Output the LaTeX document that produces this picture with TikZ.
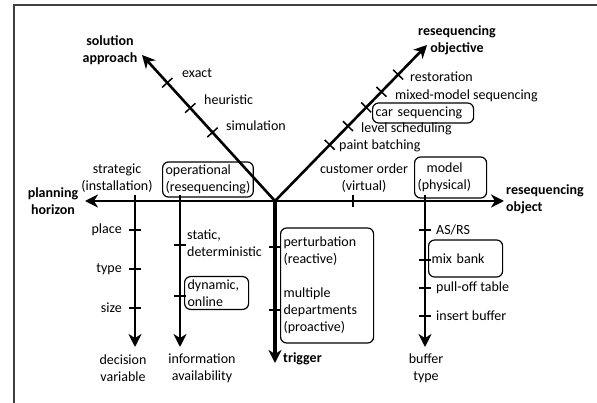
\documentclass[tikz,border=0pt]{standalone}
\usepackage{fontspec}
\setmainfont{Carlito}
\usetikzlibrary{arrows.meta,calc}

\tikzset{
  axis/.style={line width=2.6pt,-{Stealth[length=13pt,width=13pt,inset=4pt]}},
  tickmark/.style={line width=1.5pt},
  lbl/.style={inner sep=0pt},
  hd/.style={font=\fontsize{14}{17}\selectfont\bfseries,align=center,inner sep=0pt},
  box/.style={draw,rounded corners=6pt,line width=1.2pt,inner xsep=3pt,inner ysep=3pt,align=left},
}

\begin{document}
\begin{tikzpicture}[x=1pt,y=-1pt,font=\fontsize{14}{17}\selectfont]
	\useasboundingbox (0,0) rectangle (597,403);
	\draw[line width=1.3pt,black!75] (14,403) -- (14,5) -- (597,5);
	% main axes
	\coordinate (O) at (275,201);
	\coordinate (sa) at (142,55);
	\coordinate (ro) at (427,45);
	\coordinate (ph) at (85,201);
	\coordinate (rob) at (504,201);
	\coordinate (tr) at (275,363);
	\coordinate (dvTop) at (135,195);
	\coordinate (dv) at (135,347);
	\coordinate (iaTop) at (180,195);
	\coordinate (ia) at (180,347);
	\coordinate (btTop) at (425,195);
	\coordinate (bt) at (425,347);
	\draw[axis] (O) -- (sa);
	\draw[axis] (O) -- (ro);
	\draw[axis] (O) -- (ph);
	\draw[axis] (O) -- (rob);
	\draw[axis,line width=3.6pt] (O) -- (tr);
	\draw[axis] (dvTop) -- (dv);
	\draw[axis] (iaTop) -- (ia);
	\draw[axis] (btTop) -- (bt);
	% ticks
	\foreach \t in {0.47,0.637,0.81}
		\draw[tickmark] ($(O)!\t!(sa)!7pt!90:(sa)$) -- ($(O)!\t!(sa)!7pt!-90:(sa)$);
	\foreach \t in {0.36,0.48,0.60,0.70,0.81}
		\draw[tickmark] ($(O)!\t!(ro)!7pt!90:(ro)$) -- ($(O)!\t!(ro)!7pt!-90:(ro)$);
	\draw[tickmark] (353,195) -- (353,207);
	\foreach \y in {230,269,308}
		\draw[tickmark] ({135-6},\y) -- ({135+6},\y);
	\foreach \y in {245,296}
		\draw[tickmark] ({180-6},\y) -- ({180+6},\y);
	\foreach \y in {247,310}
		\draw[tickmark] ({275-6},\y) -- ({275+6},\y);
	\foreach \y in {230,260,288,316}
		\draw[tickmark] ({425-6},\y) -- ({425+6},\y);
	% axis titles
	\node[hd] (tSA) at (110,50) {solution\\approach};
	\node[hd] (tRO) at (457,40) {resequencing\\objective};
	\node[hd] (tPH) at (53,201) {planning\\horizon};
	\node[hd,align=left,anchor=west] (tRB) at (506,199) {resequencing\\object};
	\node[hd,anchor=west] (tTR) at (283,359) {trigger};
	\node[lbl,align=center] (tDV) at (123,368) {decision\\variable};
	\node[lbl,align=center] (tIA) at (202,368) {information\\availability};
	\node[lbl,align=center] (tBT) at (426,368) {buffer\\type};
	% solution approach
	\node[lbl,anchor=west] (exact) at (182,73) {exact};
	\node[lbl,anchor=west] (heur) at (204,100) {heuristic};
	\node[lbl,anchor=west] (simu) at (226,126) {simulation};
	% resequencing objective
	\node[lbl,anchor=west] (resto) at (410,77) {restoration};
	\node[lbl,anchor=west] (mms) at (395,96) {mixed-model sequencing};
	\node[box,anchor=west,text width=95pt,minimum height=20pt] (carseq) at (372,113) {car sequencing};
	\node[lbl,anchor=west] (level) at (361,129) {level scheduling};
	\node[lbl,anchor=west] (paint) at (339,146) {paint batching};
	% planning horizon
	\node[lbl,align=center] (strat) at (117,178) {strategic\\(installation)};
	\node[box,anchor=west] (oper) at (162,179.5) {operational\\(resequencing)};
	% resequencing object
	\node[lbl,align=center] (cust) at (364,178) {customer order\\(virtual)};
	\node[box,anchor=west,text width=66pt,minimum height=41pt] (model) at (414,177.5) {\hspace*{9pt}model\\(physical)};
	% decision variable
	\node[lbl,anchor=east] (place) at (122,230) {place};
	\node[lbl,anchor=east] (type) at (122,269) {type};
	\node[lbl,anchor=east] (size) at (122,308) {size};
	% information availability
	\node[lbl,anchor=west,align=left] (static) at (187,243.5) {static,\\deterministic};
	\node[box,anchor=west,text width=58pt] (dyn) at (184,293) {dynamic,\\online};
	% trigger
	\node[box,anchor=west,text width=87pt,minimum height=115pt] (pert) at (280,285.5) {perturbation\\(reactive)\\[17pt]multiple\\departments\\(proactive)};
	% buffer type
	\node[lbl,anchor=west] (asrs) at (436,230) {AS/RS};
	\node[box,anchor=west,text width=68pt,minimum height=37pt] (mix) at (428,258.5) {mix bank};
	\node[lbl,anchor=west] (pull) at (436,288) {pull-off table};
	\node[lbl,anchor=west] (insert) at (436,316) {insert buffer};
\end{tikzpicture}
\end{document}
